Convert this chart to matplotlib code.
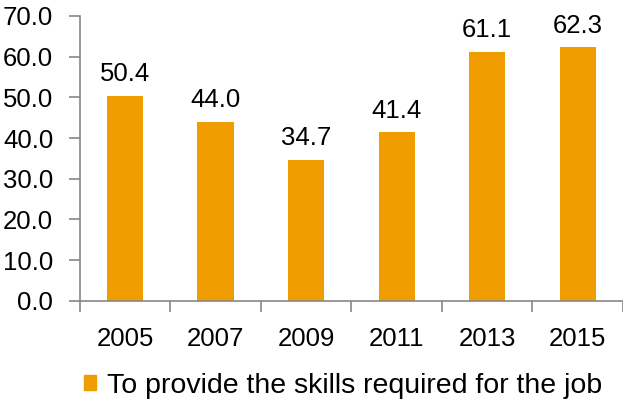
import matplotlib
matplotlib.use("Agg")
import matplotlib.pyplot as plt
from matplotlib.patches import Patch
import numpy as np

plt.rcParams['font.family'] = ['Liberation Sans', 'DejaVu Sans']

years = ["2005", "2007", "2009", "2011", "2013", "2015"]
values = [50.4, 44.0, 34.7, 41.4, 61.1, 62.3]
series_name = "To provide the skills required for the job"
color = "#EF9D00"

fig = plt.figure(figsize=(6.23, 3.99), dpi=100)
ax = fig.add_axes([0.128, 0.246, 0.872, 0.714])
x = np.arange(len(years))
ax.bar(x, values, width=0.4, color=color, zorder=2)
for xi, v in zip(x, values):
    ax.text(xi, v + 2.4, f"{v:.1f}", ha="center", va="bottom", fontsize=18.5)

ax.set_xlim(-0.5, len(years) - 0.5)
ax.set_ylim(0, 70)
ax.set_yticks(np.arange(0, 71, 10))
ax.set_yticklabels([f"{t:.1f}" for t in np.arange(0, 71, 10)], fontsize=18.5)
ax.set_xticks(x)
ax.set_xticklabels(years, fontsize=18.5)
ax.set_xticks(np.arange(-0.5, len(years), 1), minor=True)
ax.tick_params(axis='x', which='major', length=0, pad=19)
ax.tick_params(axis='x', which='minor', length=8, color='#888888', width=1.2)
ax.tick_params(axis='y', length=8, color='#888888', width=1.2, pad=11)
for s in ['top', 'right']:
    ax.spines[s].set_visible(False)
for s in ['left', 'bottom']:
    ax.spines[s].set_color('#888888')
    ax.spines[s].set_linewidth(1.2)

fig.legend(handles=[Patch(color=color, label=series_name)], loc='lower left',
           bbox_to_anchor=(0.093, -0.064), frameon=False, fontsize=20.5,
           handlelength=0.43, handleheight=0.43, handletextpad=0.38)

fig.savefig("out.png", dpi=100)
